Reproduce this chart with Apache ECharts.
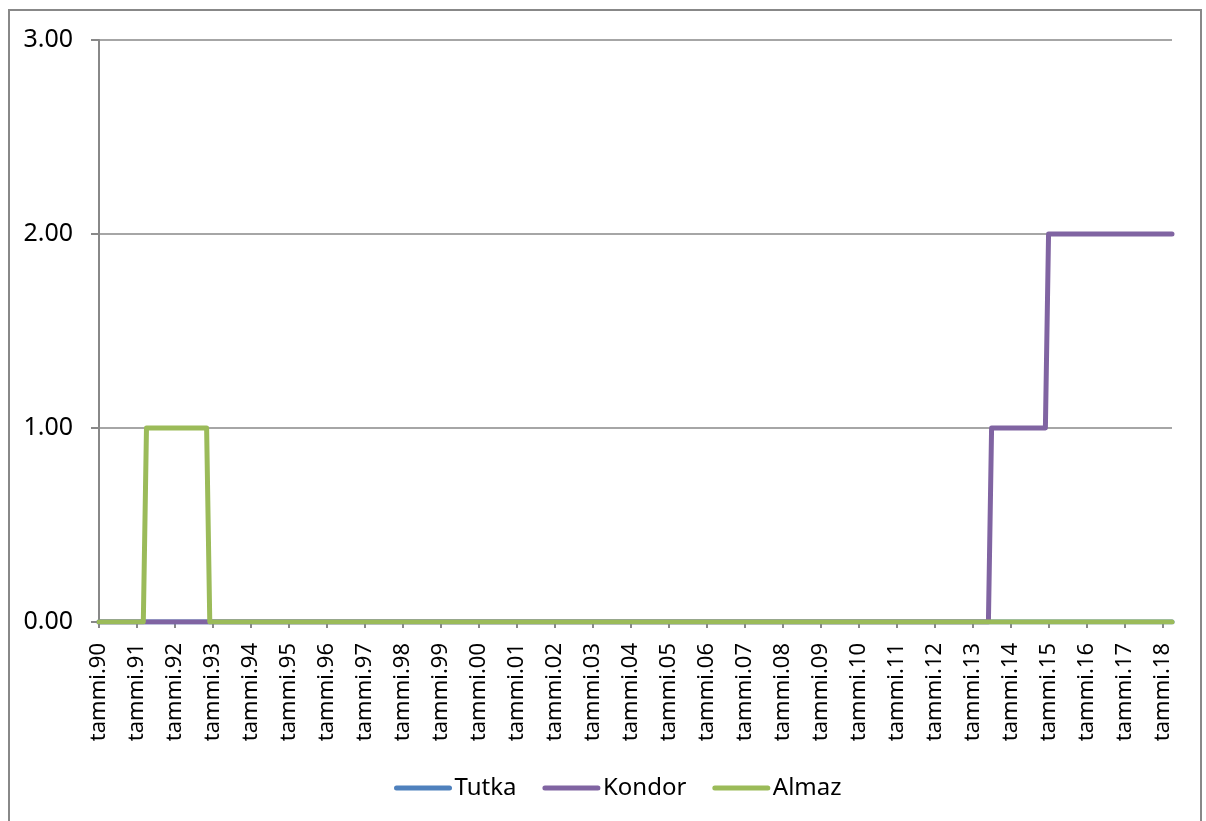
<!DOCTYPE html>
<html>
<head>
<meta charset="utf-8">
<title>Tutka, Kondor, Almaz</title>
<script src="https://cdn.jsdelivr.net/npm/echarts@6/dist/echarts.min.js"></script>
<style>
  html, body { margin: 0; padding: 0; background: #fff; }
  #chart { width: 1206px; height: 821px; }
</style>
</head>
<body>
<div id="chart"></div>
<script>
// Monthly time line: January 1990 through April 2018
const startYear = 1990;
const monthCount = 340;

// January tick labels, one per year
const yearLabels = [
  'tammi.90', 'tammi.91', 'tammi.92', 'tammi.93', 'tammi.94', 'tammi.95',
  'tammi.96', 'tammi.97', 'tammi.98', 'tammi.99', 'tammi.00', 'tammi.01',
  'tammi.02', 'tammi.03', 'tammi.04', 'tammi.05', 'tammi.06', 'tammi.07',
  'tammi.08', 'tammi.09', 'tammi.10', 'tammi.11', 'tammi.12', 'tammi.13',
  'tammi.14', 'tammi.15', 'tammi.16', 'tammi.17', 'tammi.18'
];

// Y-axis ticks
const yTicks = [0, 1, 2, 3];

// Series values at the months where the count changes: [month, count]
const tutka = [['1990-01', 0], ['2018-04', 0]];
const kondor = [
  ['1990-01', 0], ['2013-06', 0], ['2013-07', 1],
  ['2014-12', 1], ['2015-01', 2], ['2018-04', 2]
];
const almaz = [
  ['1990-01', 0], ['1991-03', 0], ['1991-04', 1],
  ['1992-11', 1], ['1992-12', 0], ['2018-04', 0]
];

const seriesNames = ['Tutka', 'Kondor', 'Almaz'];
const seriesColors = ['#4F81BD', '#8064A2', '#9BBB59'];

// Category list of months, "YYYY-MM"
const months = [];
for (let i = 0; i < monthCount; i++) {
  const y = startYear + Math.floor(i / 12);
  const m = (i % 12) + 1;
  months.push(y + '-' + (m < 10 ? '0' + m : m));
}

const FONT = 'Noto Sans';
const GRAY = '#888888';

const chart = echarts.init(document.getElementById('chart'), null, { renderer: 'canvas' });

const makeSeries = (name, data, color) => ({
  name: name,
  type: 'line',
  data: data,
  showSymbol: false,
  symbol: 'none',
  animation: false,
  lineStyle: { color: color, width: 5, cap: 'round', join: 'round' },
  itemStyle: { color: color },
  emphasis: { disabled: true }
});

chart.setOption({
  animation: false,
  backgroundColor: '#ffffff',
  graphic: [{
    type: 'rect',
    shape: { x: 9, y: 10, width: 1192, height: 830 },
    style: { fill: 'none', stroke: GRAY, lineWidth: 2 },
    silent: true,
    z: -1
  }],
  grid: { left: 99, right: 34, top: 40, bottom: 199, containLabel: false },
  legend: {
    data: seriesNames,
    left: 389,
    top: 771,
    itemWidth: 53,
    itemHeight: 14,
    itemGap: 26,
    itemStyle: { opacity: 0 },
    lineStyle: { width: 5, cap: 'round' },
    textStyle: { fontFamily: FONT, fontSize: 24, color: '#000' },
    selectedMode: false
  },
  xAxis: {
    type: 'category',
    data: months,
    boundaryGap: false,
    axisLine: { show: true, lineStyle: { color: GRAY, width: 2 } },
    axisTick: {
      show: true,
      length: 6,
      interval: (idx) => idx % 12 === 0,
      lineStyle: { color: GRAY, width: 2 }
    },
    axisLabel: {
      interval: (idx) => idx % 12 === 0,
      rotate: 90,
      margin: 21,
      fontFamily: FONT,
      fontSize: 22,
      color: '#000',
      formatter: (val, idx) => yearLabels[Math.floor(idx / 12)]
    },
    splitLine: { show: false }
  },
  yAxis: {
    type: 'value',
    min: yTicks[0],
    max: yTicks[yTicks.length - 1],
    interval: 1,
    axisLine: { show: true, lineStyle: { color: GRAY, width: 2 } },
    axisTick: { show: true, length: 8, inside: false, lineStyle: { color: GRAY, width: 2 } },
    axisLabel: {
      margin: 26,
      fontFamily: FONT,
      fontSize: 25,
      color: '#000',
      formatter: (v) => v.toFixed(2)
    },
    splitLine: { show: true, lineStyle: { color: GRAY, width: 1.5 } }
  },
  series: [
    makeSeries(seriesNames[0], tutka, seriesColors[0]),
    makeSeries(seriesNames[1], kondor, seriesColors[1]),
    makeSeries(seriesNames[2], almaz, seriesColors[2])
  ]
});
</script>
</body>
</html>
